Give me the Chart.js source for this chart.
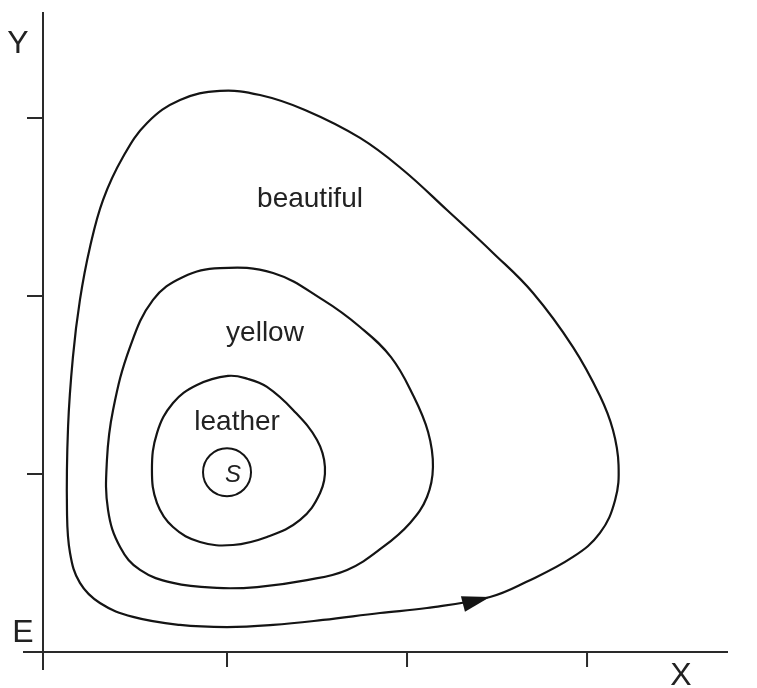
<!DOCTYPE html>
<html>
<head>
<meta charset="utf-8">
<script src="https://cdn.jsdelivr.net/npm/chart.js@4/dist/chart.umd.min.js"></script>
<style>
  html, body { margin: 0; padding: 0; background: #fff; }
  canvas { display: block; }
</style>
</head>
<body>
<canvas id="phase" width="757" height="688"></canvas>
<script>
// Closed orbits in the X–Y plane around the equilibrium point S
// (each orbit is listed once round; the loop is closed when the datasets are built)
const outerX = [0.144, 0.117, 0.111, 0.128, 0.183, 0.294, 0.478, 0.739, 1.000, 1.256, 1.533, 1.850,
                2.111, 2.461, 2.661, 2.922, 3.072, 3.156, 3.175, 3.144, 3.072, 2.922,
                2.700, 2.478, 2.222, 1.978, 1.739, 1.433, 1.183, 0.961, 0.739, 0.556, 0.422, 0.311,
                0.239, 0.183];
const outerY = [1.657, 1.264, 0.798, 0.556, 0.388, 0.275, 0.197, 0.152, 0.140, 0.152, 0.180, 0.219,
                0.247, 0.309, 0.393, 0.534, 0.669, 0.854, 1.051, 1.247, 1.438, 1.713,
                2.017, 2.242, 2.483, 2.708, 2.888, 3.045, 3.129, 3.152, 3.101, 2.972, 2.781, 2.539,
                2.275, 1.978];

const middleX = [0.333, 0.339, 0.406, 0.517, 0.700, 0.944, 1.167, 1.444, 1.667, 1.867, 2.017, 2.111,
                 2.144, 2.117, 2.033, 1.911, 1.739, 1.533, 1.256, 0.961, 0.756, 0.589, 0.461, 0.367];
const middleY = [1.079, 0.798, 0.590, 0.461, 0.388, 0.360, 0.365, 0.404, 0.461, 0.590, 0.725, 0.871,
                 1.039, 1.236, 1.444, 1.657, 1.826, 1.978, 2.129, 2.157, 2.107, 1.978, 1.713, 1.360];

const innerX = [0.583, 0.611, 0.700, 0.850, 1.033, 1.222, 1.406, 1.517, 1.544, 1.500, 1.367, 1.222,
                1.117, 1.006, 0.833, 0.700, 0.611];
const innerY = [1.022, 0.837, 0.702, 0.618, 0.601, 0.646, 0.742, 0.893, 1.039, 1.191, 1.360, 1.489,
                1.534, 1.551, 1.500, 1.399, 1.230];

// Equilibrium point
const centerS = { x: 1.0, y: 1.01 };

// Axis tick values
const xTicks = [1, 2, 3];
const yTicks = [1, 2, 3];

// Orbit names and where they sit
const orbitLabels = [
  { text: 'beautiful', x: 1.461, y: 2.500 },
  { text: 'yellow',    x: 1.211, y: 1.747 },
  { text: 'leather',   x: 1.056, y: 1.247 }
];

// Direction arrow on the outer orbit (index of the tip point)
const arrowIndex = 13;

// A closed orbit: the last point is put in front and the first two at the end,
// so every visible piece of the spline gets its true neighbours; the two helper
// pieces at either end are left invisible.
function loopPoints(xs, ys) {
  const pts = xs.map((x, i) => ({ x, y: ys[i] }));
  const n = pts.length;
  return [pts[n - 1], ...pts, pts[0], pts[1]];
}

const INK = '#141414';
const AXIS = '#2a2a2a';
const FONT = "'Liberation Sans', Arial, Helvetica, sans-serif";

function orbit(xs, ys) {
  const data = loopPoints(xs, ys);
  const last = data.length - 1;
  return {
    data,
    showLine: true,
    tension: 0.4,
    borderColor: INK,
    borderWidth: 2.2,
    pointRadius: 0,
    pointHoverRadius: 0,
    fill: false,
    segment: {
      borderColor: ctx => (ctx.p0DataIndex === 0 || ctx.p1DataIndex === last) ? 'rgba(0,0,0,0)' : undefined
    }
  };
}

const decorations = {
  id: 'decorations',
  afterDatasetsDraw(chart) {
    const { ctx, scales: { x, y } } = chart;
    const px = v => x.getPixelForValue(v);
    const py = v => y.getPixelForValue(v);
    const x0 = px(x.min), y0 = py(0);

    ctx.save();
    ctx.strokeStyle = AXIS;
    ctx.lineWidth = 2;
    ctx.lineCap = 'butt';

    // axes
    ctx.beginPath();
    ctx.moveTo(x0, py(y.max));
    ctx.lineTo(x0, y0 + 18);
    ctx.moveTo(x0 - 20, y0);
    ctx.lineTo(px(x.max), y0);
    ctx.stroke();

    // tick marks
    ctx.beginPath();
    xTicks.forEach(v => { ctx.moveTo(px(v), y0); ctx.lineTo(px(v), y0 + 15); });
    yTicks.forEach(v => { ctx.moveTo(x0, py(v)); ctx.lineTo(x0 - 16, py(v)); });
    ctx.stroke();

    // axis letters
    ctx.fillStyle = '#222';
    ctx.font = '32px ' + FONT;
    ctx.textAlign = 'center';
    ctx.textBaseline = 'alphabetic';
    ctx.fillText('Y', x0 - 25, 53);
    ctx.fillText('E', x0 - 20, y0 - 10);
    ctx.fillText('X', px(x.max) - 47, y0 + 33);

    // orbit names
    ctx.font = '28px ' + FONT;
    orbitLabels.forEach(l => ctx.fillText(l.text, px(l.x), py(l.y)));

    // S inside its circle
    ctx.font = 'italic 24px ' + FONT;
    ctx.textBaseline = 'middle';
    ctx.fillText('S', px(centerS.x) + 6, py(centerS.y) + 3);

    // arrow head along the outer orbit
    const tip = { x: px(outerX[arrowIndex]), y: py(outerY[arrowIndex]) };
    const a = { x: px(outerX[arrowIndex - 1]), y: py(outerY[arrowIndex - 1]) };
    const b = { x: px(outerX[arrowIndex + 1]), y: py(outerY[arrowIndex + 1]) };
    let dx = b.x - a.x, dy = b.y - a.y;
    const len = Math.hypot(dx, dy);
    dx /= len; dy /= len;
    const L = 28, W = 8;
    const bx = tip.x - dx * L, by = tip.y - dy * L;
    ctx.fillStyle = INK;
    ctx.beginPath();
    ctx.moveTo(tip.x, tip.y);
    ctx.lineTo(bx - dy * W, by + dx * W);
    ctx.lineTo(bx + dy * W, by - dx * W);
    ctx.closePath();
    ctx.fill();

    ctx.restore();
  }
};

new Chart(document.getElementById('phase'), {
  type: 'scatter',
  data: {
    datasets: [
      orbit(outerX, outerY),
      orbit(middleX, middleY),
      orbit(innerX, innerY),
      {
        data: [centerS],
        showLine: false,
        pointRadius: 24,
        pointHoverRadius: 24,
        pointBorderWidth: 2,
        pointBorderColor: INK,
        pointBackgroundColor: 'rgba(0,0,0,0)'
      }
    ]
  },
  options: {
    responsive: false,
    animation: false,
    events: [],
    layout: { autoPadding: false, padding: { left: 43, right: 29, top: 12, bottom: 36 } },
    scales: {
      x: { type: 'linear', display: false, min: -0.0222, max: 3.783 },
      y: { type: 'linear', display: false, min: 0, max: 3.5955 }
    },
    plugins: {
      legend: { display: false },
      tooltip: { enabled: false },
      title: { display: false }
    }
  },
  plugins: [decorations]
});
</script>
</body>
</html>
